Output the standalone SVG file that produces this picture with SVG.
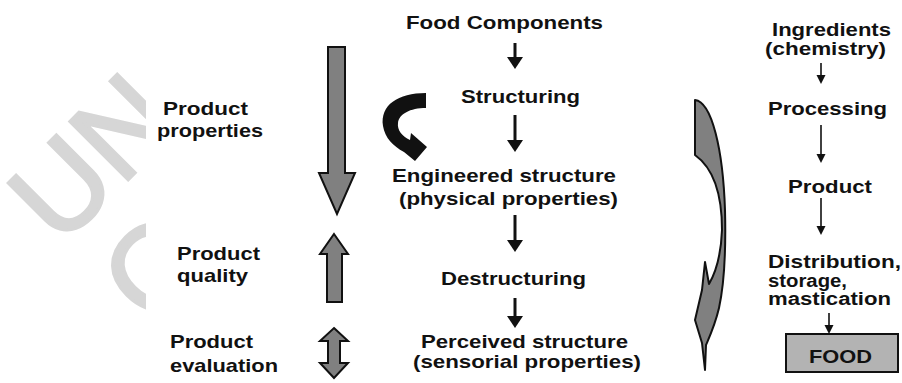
<svg xmlns="http://www.w3.org/2000/svg" width="902" height="383" viewBox="0 0 902 383">
<style>
.t{font-family:"Liberation Sans",Arial,sans-serif;font-weight:bold;font-size:19px;fill:#111}
.s{font-size:18px}
.wm{font-family:"Liberation Sans",Arial,sans-serif;font-size:120px;fill:#d6d6d6;stroke:#d6d6d6;stroke-width:3}
.big{fill:#808080;stroke:#111;stroke-width:2;stroke-linejoin:miter}
.thick{stroke:#111;stroke-width:3;fill:none}
.thin{stroke:#111;stroke-width:1.6;fill:none}
</style>
<defs>
<marker id="hd" markerUnits="userSpaceOnUse" viewBox="0 -8 12 16" refX="0" refY="0" markerWidth="12" markerHeight="16" orient="auto"><path d="M0,-8 L12,0 L0,8 Z" fill="#111"/></marker>
<marker id="hs" markerUnits="userSpaceOnUse" viewBox="0 -5 9 10" refX="0" refY="0" markerWidth="9" markerHeight="10" orient="auto"><path d="M0,-4.5 L9,0 L0,4.5 Z" fill="#111"/></marker>
<clipPath id="wmclip"><rect x="0" y="0" width="146" height="383"/></clipPath>
</defs>
<rect width="902" height="383" fill="#fff"/>

<g id="watermark" clip-path="url(#wmclip)">
<text class="wm" transform="translate(60,248) rotate(-45)">UN</text>
<text class="wm" transform="translate(152,329) rotate(-45)">C</text>
</g>

<g id="left-labels">
<text class="t" x="163" y="115" textLength="85" lengthAdjust="spacingAndGlyphs">Product</text>
<text class="t" x="157" y="137" textLength="106" lengthAdjust="spacingAndGlyphs">properties</text>
<text class="t" x="177" y="260" textLength="83" lengthAdjust="spacingAndGlyphs">Product</text>
<text class="t" x="177" y="282" textLength="71" lengthAdjust="spacingAndGlyphs">quality</text>
<text class="t" x="170" y="348" textLength="83" lengthAdjust="spacingAndGlyphs">Product</text>
<text class="t" x="170" y="372" textLength="108" lengthAdjust="spacingAndGlyphs">evaluation</text>
</g>

<g id="big-arrows">
<path class="big" d="M328,47 L345,47 L345,173 L355,173 L337,214 L319,173 L328,173 Z"/>
<path class="big" d="M334,234 L348,254 L342,254 L342,302 L327,302 L327,254 L320,254 Z"/>
<path class="big" d="M334,328 L348,341 L340,341 L340,363 L348,363 L334,378 L320,363 L328,363 L328,341 L320,341 Z"/>
</g>

<g id="curl-arrow">
<path d="M426,93 C398,93 380,105 383,126 C385,138 393,146 404,152 L415,161 L427,147 L411,133 L410,140 C402,136 397,130 398,123 C399,114 410,108 426,108 Z" fill="#111"/>
</g>

<g id="center-nodes">
<text class="t" x="406" y="29" textLength="197" lengthAdjust="spacingAndGlyphs">Food Components</text>
<text class="t" x="461" y="103" textLength="119" lengthAdjust="spacingAndGlyphs">Structuring</text>
<text class="t" x="392" y="182" textLength="224" lengthAdjust="spacingAndGlyphs">Engineered structure</text>
<text class="t" x="399" y="205" textLength="219" lengthAdjust="spacingAndGlyphs">(physical properties)</text>
<text class="t" x="441" y="285" textLength="145" lengthAdjust="spacingAndGlyphs">Destructuring</text>
<text class="t" x="421" y="348" textLength="207" lengthAdjust="spacingAndGlyphs">Perceived structure</text>
<text class="t" x="413" y="368" textLength="228" lengthAdjust="spacingAndGlyphs">(sensorial properties)</text>
</g>

<g id="swoosh">
<path d="M695,100 C712,102 723,150 725,210 C726,250 724,285 719,308 C715,325 709,338 706,345 L705,370 L702,343 L695,320 L702,290 L705,262 L709,284 C716,272 721,255 722,230 C722,200 716,170 695,155 Z" fill="#808080" stroke="#111" stroke-width="2" stroke-linejoin="round"/>
</g>

<g id="right-nodes">
<text class="t" x="772" y="36" textLength="119" lengthAdjust="spacingAndGlyphs">Ingredients</text>
<text class="t" x="765" y="55" textLength="121" lengthAdjust="spacingAndGlyphs">(chemistry)</text>
<text class="t" x="768" y="115" textLength="119" lengthAdjust="spacingAndGlyphs">Processing</text>
<text class="t" x="788" y="193" textLength="84" lengthAdjust="spacingAndGlyphs">Product</text>
<text class="t s" x="768" y="267.5" textLength="133" lengthAdjust="spacingAndGlyphs">Distribution,</text>
<text class="t s" x="768" y="286.5" textLength="79" lengthAdjust="spacingAndGlyphs">storage,</text>
<text class="t s" x="768" y="305" textLength="123" lengthAdjust="spacingAndGlyphs">mastication</text>
</g>
<g id="food">
<rect x="786" y="334" width="112" height="38" fill="#b3b3b3" stroke="#111" stroke-width="2"/>
<text class="t" x="809" y="363" textLength="63" lengthAdjust="spacingAndGlyphs">FOOD</text>
</g>

<g id="connectors">
<line class="thick" x1="515" y1="43" x2="515" y2="57" marker-end="url(#hd)"/>
<line class="thick" x1="515" y1="115" x2="515" y2="140" marker-end="url(#hd)"/>
<line class="thick" x1="515" y1="215" x2="515" y2="240" marker-end="url(#hd)"/>
<line class="thick" x1="515" y1="298" x2="515" y2="316" marker-end="url(#hd)"/>
<line class="thin" x1="821" y1="63" x2="821" y2="75" marker-end="url(#hs)"/>
<line class="thin" x1="821" y1="125" x2="821" y2="154" marker-end="url(#hs)"/>
<line class="thin" x1="821" y1="198" x2="821" y2="226" marker-end="url(#hs)"/>
<line class="thin" x1="829" y1="313" x2="829" y2="325" marker-end="url(#hs)"/>
</g>
</svg>
